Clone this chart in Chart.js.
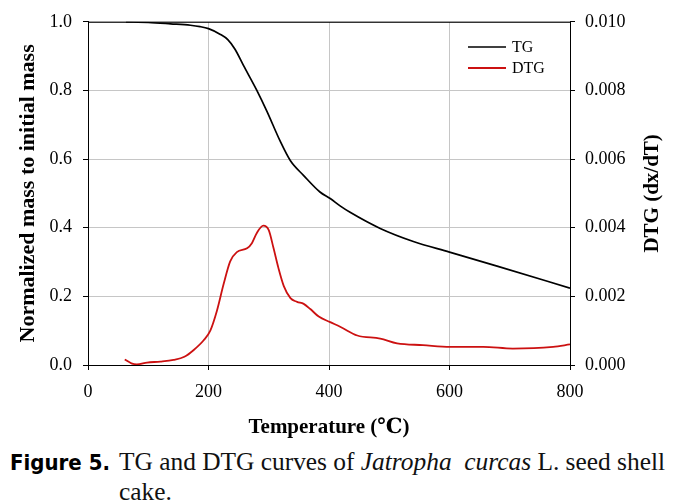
<!DOCTYPE html>
<html>
<head>
<meta charset="utf-8">
<script src="https://cdn.jsdelivr.net/npm/chart.js@4.4.1/dist/chart.umd.min.js"></script>
<style>
  body { margin: 0; background: #fff; width: 685px; height: 504px; position: relative; overflow: hidden; }
  #myChart { position: absolute; left: 0; top: 0; }
  .caption { position: absolute; left: 10px; top: 446px; display: flex; align-items: baseline; white-space: nowrap; }
  .caption .lbl { font-family: 'DejaVu Sans Condensed', 'DejaVu Sans', sans-serif; font-weight: bold; font-size: 22px; width: 109px; }
  .caption .txt { font-family: 'Liberation Serif', 'DejaVu Serif', serif; font-size: 25.4px; line-height: 30px; color: #111; }
</style>
</head>
<body>
<canvas id="myChart" width="685" height="440"></canvas>
<div class="caption">
  <span class="lbl">Figure 5.</span>
  <span class="txt">TG and DTG curves of <i>Jatropha</i>&nbsp; <i>curcas</i> L. seed shell<br>cake.</span>
</div>
<script>
// TG curve (normalized mass)
var tgTemp = [63, 100, 137, 170, 186, 200, 219, 232, 244, 258, 280, 297, 319, 336, 358, 385, 402, 419, 435, 485, 540, 600, 679, 800];
var tgMass = [1.000, 0.998, 0.994, 0.990, 0.986, 0.980, 0.964, 0.948, 0.920, 0.873, 0.801, 0.739, 0.652, 0.595, 0.552, 0.504, 0.485, 0.463, 0.445, 0.398, 0.360, 0.329, 0.288, 0.224];

// DTG curve (dx/dT)
var dtgTemp = [61, 72, 81, 98, 120, 142, 160, 175, 192, 203, 214, 225, 236, 247, 264, 272, 280, 291, 300, 308, 316, 325, 336, 347, 358, 369, 383, 402, 420, 447, 485, 513, 556, 601, 656, 705, 772, 800];
var dtgRate = [0.00016, 0.00005, 0.00002, 0.00007, 0.00010, 0.00015, 0.00024, 0.00043, 0.00072, 0.00100, 0.00158, 0.00235, 0.00302, 0.00329, 0.00340, 0.00355, 0.00384, 0.00406, 0.00393, 0.00340, 0.00283, 0.00230, 0.00195, 0.00184, 0.00178, 0.00163, 0.00141, 0.00125, 0.00110, 0.00086, 0.00077, 0.00063, 0.00058, 0.00053, 0.00053, 0.00048, 0.00053, 0.00060];

var xTicks = [0, 200, 400, 600, 800];

var serif = "'Liberation Serif', 'DejaVu Serif', serif";

function toPoints(xs, ys) {
    return xs.map(function(x, i) { return {x: x, y: ys[i]}; });
}

// top frame line, right axis title and the small legend
var extras = {
    id: 'extras',
    afterDraw: function(chart) {
        var ctx = chart.ctx;
        var area = chart.chartArea;
        ctx.save();
        ctx.strokeStyle = '#000';
        ctx.lineWidth = 1;
        ctx.beginPath();
        ctx.moveTo(area.left, area.top + 0.5);
        ctx.lineTo(area.right, area.top + 0.5);
        ctx.stroke();

        // right title, reading upwards
        ctx.translate(653, (area.top + area.bottom) / 2);
        ctx.rotate(-Math.PI / 2);
        ctx.fillStyle = '#000';
        ctx.font = 'bold 21px ' + serif;
        ctx.textAlign = 'center';
        ctx.textBaseline = 'middle';
        ctx.fillText('DTG (dx/dT)', 0, 0);
        ctx.restore();

        ctx.save();
        ctx.font = '16px ' + serif;
        ctx.textBaseline = 'middle';
        chart.data.datasets.forEach(function(ds, i) {
            var y = 47 + i * 21;
            ctx.strokeStyle = ds.borderColor;
            ctx.lineWidth = ds.borderWidth;
            ctx.beginPath();
            ctx.moveTo(468, y);
            ctx.lineTo(506, y);
            ctx.stroke();
            ctx.fillStyle = '#000';
            ctx.fillText(ds.label, 512, y + 1);
        });
        ctx.restore();
    }
};

var ctx = document.getElementById('myChart').getContext('2d');
var chart = new Chart(ctx, {
    type: 'line',
    data: {
        datasets: [{
            label: 'TG',
            data: toPoints(tgTemp, tgMass),
            borderColor: '#000000',
            borderWidth: 1.7,
            pointRadius: 0,
            cubicInterpolationMode: 'monotone',
            yAxisID: 'y'
        }, {
            label: 'DTG',
            data: toPoints(dtgTemp, dtgRate),
            borderColor: '#cc1111',
            borderWidth: 1.8,
            pointRadius: 0,
            cubicInterpolationMode: 'monotone',
            yAxisID: 'y1'
        }]
    },
    options: {
        responsive: false,
        animation: false,
        devicePixelRatio: 1,
        layout: { padding: { top: 17, left: 0, right: 0, bottom: 0 } },
        plugins: { legend: { display: false }, tooltip: { enabled: false } },
        scales: {
            x: {
                type: 'linear',
                min: 0,
                max: 800,
                afterBuildTicks: function(scale) {
                    scale.ticks = xTicks.map(function(v) { return {value: v}; });
                },
                afterFit: function(scale) { scale.height = 75; },
                ticks: { color: '#000', font: { family: serif, size: 18 }, padding: 11, maxRotation: 0 },
                grid: { color: '#c6c6c6', tickColor: '#000', tickLength: 5, lineWidth: 1 },
                border: { color: '#000', width: 1 },
                title: { display: true, text: 'Temperature (\u2103)', color: '#000', font: { family: serif, size: 21, weight: 'bold' }, padding: { top: 0, bottom: 0 } }
            },
            y: {
                position: 'left',
                min: 0,
                max: 1,
                afterFit: function(scale) { scale.width = 88; },
                ticks: { stepSize: 0.2, color: '#000', font: { family: serif, size: 18 }, padding: 11,
                    callback: function(v) { return v.toFixed(1); } },
                grid: { color: '#c6c6c6', tickColor: '#000', tickLength: 5, lineWidth: 1 },
                border: { color: '#000', width: 1 },
                title: { display: true, text: 'Normalized mass to initial mass', color: '#000', font: { family: serif, size: 22, weight: 'bold' }, padding: { top: 15, bottom: 0 } }
            },
            y1: {
                position: 'right',
                min: 0,
                max: 0.01,
                afterFit: function(scale) { scale.width = 115; },
                ticks: { stepSize: 0.002, color: '#000', font: { family: serif, size: 18 }, padding: 10,
                    callback: function(v) { return v.toFixed(3); } },
                grid: { drawOnChartArea: false, tickColor: '#000', tickLength: 5 },
                border: { color: '#000', width: 1 }
            }
        }
    },
    plugins: [extras]
});
</script>
</body>
</html>
